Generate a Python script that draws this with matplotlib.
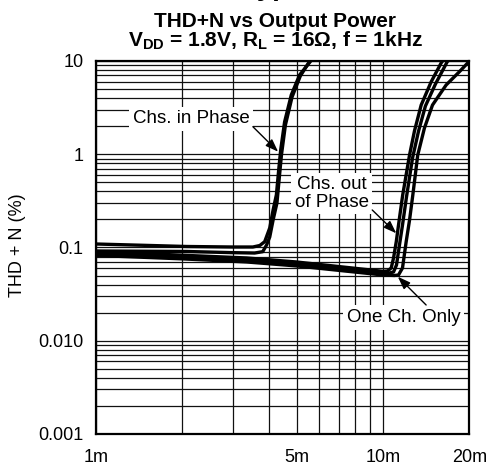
import matplotlib
matplotlib.use("Agg")
import matplotlib.pyplot as plt
from matplotlib.ticker import FixedLocator, LogLocator, NullFormatter

plt.rcParams['font.family'] = ['Liberation Sans', 'DejaVu Sans']
plt.rcParams['mathtext.fontset'] = 'custom'
plt.rcParams['mathtext.rm'] = 'Liberation Sans:bold'
plt.rcParams['mathtext.it'] = 'Liberation Sans:bold'
plt.rcParams['mathtext.bf'] = 'Liberation Sans:bold'

# output power in mW, THD+N in %
in_phase_a_p = [1.0, 2.07, 3.0, 3.52, 3.72, 3.87, 4.03, 4.14, 4.25, 4.33, 4.40, 4.54, 4.79, 5.12, 5.63]
in_phase_a_t = [0.109, 0.1025, 0.1012, 0.1012, 0.105, 0.1154, 0.162, 0.2525, 0.366, 0.678, 1.11, 2.22, 4.32, 7.08, 10.2]

in_phase_b_p = [1.0, 2.07, 3.0, 3.57, 3.81, 3.93, 4.03, 4.14, 4.27, 4.36, 4.43, 4.57, 4.82, 5.15, 5.58]
in_phase_b_t = [0.0917, 0.0906, 0.088, 0.0872, 0.0902, 0.1065, 0.1296, 0.197, 0.30, 0.60, 1.0, 2.06, 4.11, 6.9, 10.2]

out_phase_a_p = [1.0, 2.0, 3.35, 5.0, 10.0, 10.37, 10.68, 10.88, 11.12, 11.41, 11.71, 12.37, 12.87, 13.58, 14.72, 15.94, 16.2]
out_phase_a_t = [0.0906, 0.0826, 0.0772, 0.0699, 0.0555, 0.056, 0.0603, 0.0772, 0.1154, 0.207, 0.366, 0.982, 1.78, 3.37, 6.0, 9.52, 10.2]

out_phase_b_p = [1.0, 2.0, 3.35, 5.0, 10.0, 10.53, 10.88, 11.14, 11.41, 11.69, 12.07, 12.67, 13.29, 14.05, 15.23, 16.76, 17.0]
out_phase_b_t = [0.086, 0.0792, 0.0732, 0.0665, 0.0533, 0.0533, 0.0546, 0.0649, 0.1065, 0.174, 0.348, 0.911, 1.76, 3.29, 5.67, 9.9, 10.2]

one_ch_p = [1.0, 2.0, 3.35, 5.0, 10.0, 10.96, 11.32, 11.69, 12.04, 12.37, 12.70, 13.21, 13.94, 14.87, 16.59, 18.46, 19.72, 20.0]
one_ch_t = [0.0822, 0.0755, 0.0699, 0.0634, 0.0507, 0.0501, 0.0507, 0.0603, 0.1154, 0.197, 0.366, 0.982, 1.91, 3.37, 5.53, 7.68, 9.52, 9.9]

x_ticks = [1, 5, 10, 20]
x_labels = ['1m', '5m', '10m', '20m']
y_ticks = [0.001, 0.01, 0.1, 1, 10]
y_labels = ['0.001', '0.010', '0.1', '1', '10']

fig = plt.figure(figsize=(4.89, 4.71), dpi=100)
ax = fig.add_axes([0.1963, 0.0786, 0.7637, 0.7919])

for p, t in [(in_phase_a_p, in_phase_a_t), (in_phase_b_p, in_phase_b_t),
             (out_phase_a_p, out_phase_a_t), (out_phase_b_p, out_phase_b_t),
             (one_ch_p, one_ch_t)]:
    ax.plot(p, t, color='black', lw=2.4, solid_capstyle='round', solid_joinstyle='round', zorder=4)

ax.set_xscale('log')
ax.set_yscale('log')
ax.set_xlim(1, 20)
ax.set_ylim(0.001, 10)

ax.xaxis.set_major_locator(FixedLocator(x_ticks))
ax.set_xticklabels(x_labels)
ax.xaxis.set_minor_locator(FixedLocator([2, 3, 4, 6, 7, 8, 9]))
ax.xaxis.set_minor_formatter(NullFormatter())
ax.yaxis.set_major_locator(FixedLocator(y_ticks))
ax.set_yticklabels(y_labels)
ax.yaxis.set_minor_locator(LogLocator(base=10, subs=range(2, 10), numticks=20))
ax.yaxis.set_minor_formatter(NullFormatter())

ax.grid(True, which='both', color='#111111', lw=0.9)
ax.set_axisbelow(True)
ax.tick_params(which='both', length=0, labelsize=13)
ax.tick_params(axis='y', pad=9)
ax.tick_params(axis='x', pad=11)
for s in ax.spines.values():
    s.set_linewidth(1.6)
    s.set_zorder(5)

box = dict(facecolor='white', edgecolor='none', pad=2.5)
ax.text(2.15, 2.39, 'Chs. in Phase', fontsize=13.5, ha='center', va='center', bbox=box, zorder=3)
ax.text(6.62, 0.379, 'Chs. out\nof Phase', fontsize=13.5, ha='center', va='center',
        linespacing=1.05, bbox=box, zorder=3)
ax.text(11.79, 0.01775, 'One Ch. Only', fontsize=13.5, ha='center', va='center', bbox=box, zorder=3)

arrow = dict(arrowstyle='-|>,head_length=0.55,head_width=0.2', color='black', lw=1.0,
             shrinkA=0, shrinkB=0, mutation_scale=14)
ax.annotate('', xy=(4.31, 1.065), xytext=(3.52, 1.975), arrowprops=arrow, zorder=6)
ax.annotate('', xy=(11.12, 0.142), xytext=(9.17, 0.2525), arrowprops=arrow, zorder=6)
ax.annotate('', xy=(11.26, 0.0486), xytext=(14.13, 0.02417), arrowprops=arrow, zorder=6)

fig.text(17.5 / 489, 1 - 245 / 471, 'THD + N (%)', rotation=90, fontsize=13,
         ha='center', va='center')

# page heading cut off at the top edge, only its lowest pixels show
fig.text(242 / 489, 1 + 5 / 471, 'Typical Characteristics', fontsize=20,
         fontweight='bold', ha='left', va='baseline')
fig.text(275 / 489, 1 - 27 / 471, 'THD+N vs Output Power', fontsize=15,
         fontweight='bold', ha='center', va='baseline')
fig.text(275 / 489, 1 - 47 / 471,
         r'$\mathrm{V_{DD}}$ = 1.8V, $\mathrm{R_L}$ = 16Ω, f = 1kHz',
         fontsize=15, fontweight='bold', ha='center', va='baseline')

fig.savefig('out.png', dpi=100)
